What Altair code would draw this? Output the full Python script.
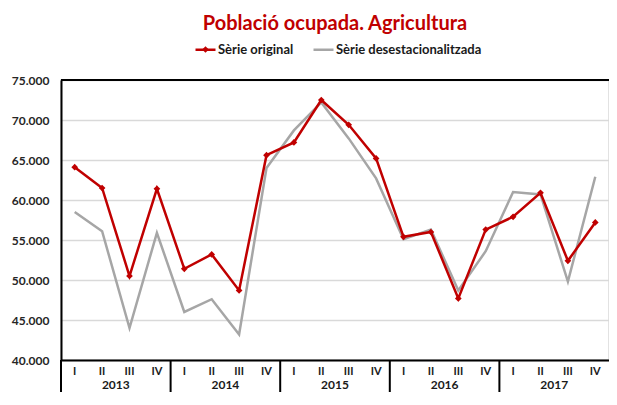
import altair as alt
import pandas as pd

quarters = ["I", "II", "III", "IV"]
years = ["2013", "2014", "2015", "2016", "2017"]
original = [64100, 61500, 50500, 61400, 51400, 53200, 48700, 65600,
            67200, 72500, 69400, 65200, 55400, 56000, 47700, 56300,
            57900, 60900, 52400, 57200]
deseason = [58500, 56100, 44000, 55900, 46000, 47600, 43200, 64000,
            68700, 72200, 67700, 62700, 55100, 56300, 48700, 53600,
            61000, 60700, 49800, 62900]
series_names = ["Sèrie original", "Sèrie desestacionalitzada"]
colors = ["#C00000", "#A6A6A6"]
y_ticks = [40000, 45000, 50000, 55000, 60000, 65000, 70000, 75000]

FONT = "Lato"
W, H = 548, 280

rows = []
for i in range(len(original)):
    rows.append({"idx": i, "quarter": quarters[i % 4], "year": years[i // 4],
                 "value": original[i], "series": series_names[0], "marker": series_names[0]})
for i in range(len(deseason)):
    rows.append({"idx": i, "quarter": quarters[i % 4], "year": years[i // 4],
                 "value": deseason[i], "series": series_names[1], "marker": series_names[1]})
df = pd.DataFrame(rows)
df_orig = df[df.series == series_names[0]]
df_des = df[df.series == series_names[1]]

year_df = pd.DataFrame({"year": years, "center": [4 * k + 1.5 for k in range(len(years))]})
div_df = pd.DataFrame({"pos": [4 * k - 0.5 for k in range(len(years))]})
top_df = pd.DataFrame({"v": [max(y_ticks)]})

xs = alt.Scale(domain=[-0.5, len(original) - 0.5], nice=False, zero=False)
ys = alt.Scale(domain=[min(y_ticks), max(y_ticks)], nice=False, zero=False)

x_axis = alt.Axis(title=None, labels=False, ticks=False, grid=False,
                  domainColor="black", domainWidth=2)
y_axis = alt.Axis(
    title=None, values=y_ticks, labelOverlap=False, labelBound=False,
    labelExpr="replace(format(datum.value, ','), ',', '.')",
    ticks=False, gridColor="#d9d9d9", gridWidth=1.5,
    domainColor="black", domainWidth=2, labelPadding=12,
    labelFont=FONT, labelFontWeight="bold", labelFontSize=12, labelColor="#262626")

X = alt.X("idx:Q", scale=xs, axis=x_axis)
Y = alt.Y("value:Q", scale=ys, axis=y_axis)

LX, LY = 133, -42
color = alt.Color("series:N", scale=alt.Scale(domain=series_names, range=colors),
                  legend=alt.Legend(title=None, orient="none", legendX=LX, legendY=LY,
                                    direction="horizontal", symbolType="stroke",
                                    symbolSize=400, symbolStrokeWidth=2.5,
                                    labelFont=FONT, labelFontWeight="bold",
                                    labelFontSize=13, labelColor="#1a1a1a",
                                    columnPadding=14, labelOffset=1))

grey_line = alt.Chart(df_des).mark_line(strokeWidth=2.5).encode(x=X, y=Y, color=color)
red_line = alt.Chart(df_orig).mark_line(strokeWidth=2.5).encode(x=X, y=Y, color=color)
red_pts = alt.Chart(df_orig).mark_point(filled=True, size=45, opacity=1, color=colors[0]).encode(
    x=X, y=Y,
    shape=alt.Shape("marker:N", scale=alt.Scale(domain=[series_names[0]], range=["diamond"]),
                    legend=alt.Legend(title=None, orient="none", legendX=LX + 7, legendY=LY + 7,
                                      symbolSize=45, symbolFillColor=colors[0],
                                      symbolStrokeColor=colors[0], symbolOpacity=1,
                                      labelExpr="''", labelFontSize=1)))

top_rule = alt.Chart(top_df).mark_rule(color="black", strokeWidth=2).encode(
    y=alt.Y("v:Q", scale=ys, axis=y_axis))
dividers = alt.Chart(div_df).mark_rule(color="black", strokeWidth=2).encode(
    x=alt.X("pos:Q", scale=xs, axis=x_axis), y=alt.value(H), y2=alt.value(H + 40))
q_text = alt.Chart(df_orig).mark_text(font=FONT, fontWeight="bold", fontSize=11, color="#1a1a1a",
                                      baseline="middle").encode(
    x=alt.X("idx:Q", scale=xs, axis=x_axis), y=alt.value(H + 12), text="quarter:N")
y_text = alt.Chart(year_df).mark_text(font=FONT, fontWeight="bold", fontSize=12, color="#1a1a1a",
                                      baseline="middle").encode(
    x=alt.X("center:Q", scale=xs, axis=x_axis), y=alt.value(H + 25), text="year:N")

chart = alt.layer(grey_line, red_line, red_pts, top_rule, dividers, q_text, y_text).properties(
    width=W, height=H,
    title=alt.Title("Població ocupada. Agricultura", font=FONT, fontSize=20, fontWeight="bold",
                    color="#C00000", anchor="middle", frame="group", offset=4),
    autosize=alt.AutoSizeParams(type="none"),
    padding={"left": 53, "top": 72, "right": 0, "bottom": 32},
).configure_view(stroke="#d9d9d9", strokeWidth=1.5)

chart.save("out.html", embed_options={"renderer": "svg", "actions": False})
